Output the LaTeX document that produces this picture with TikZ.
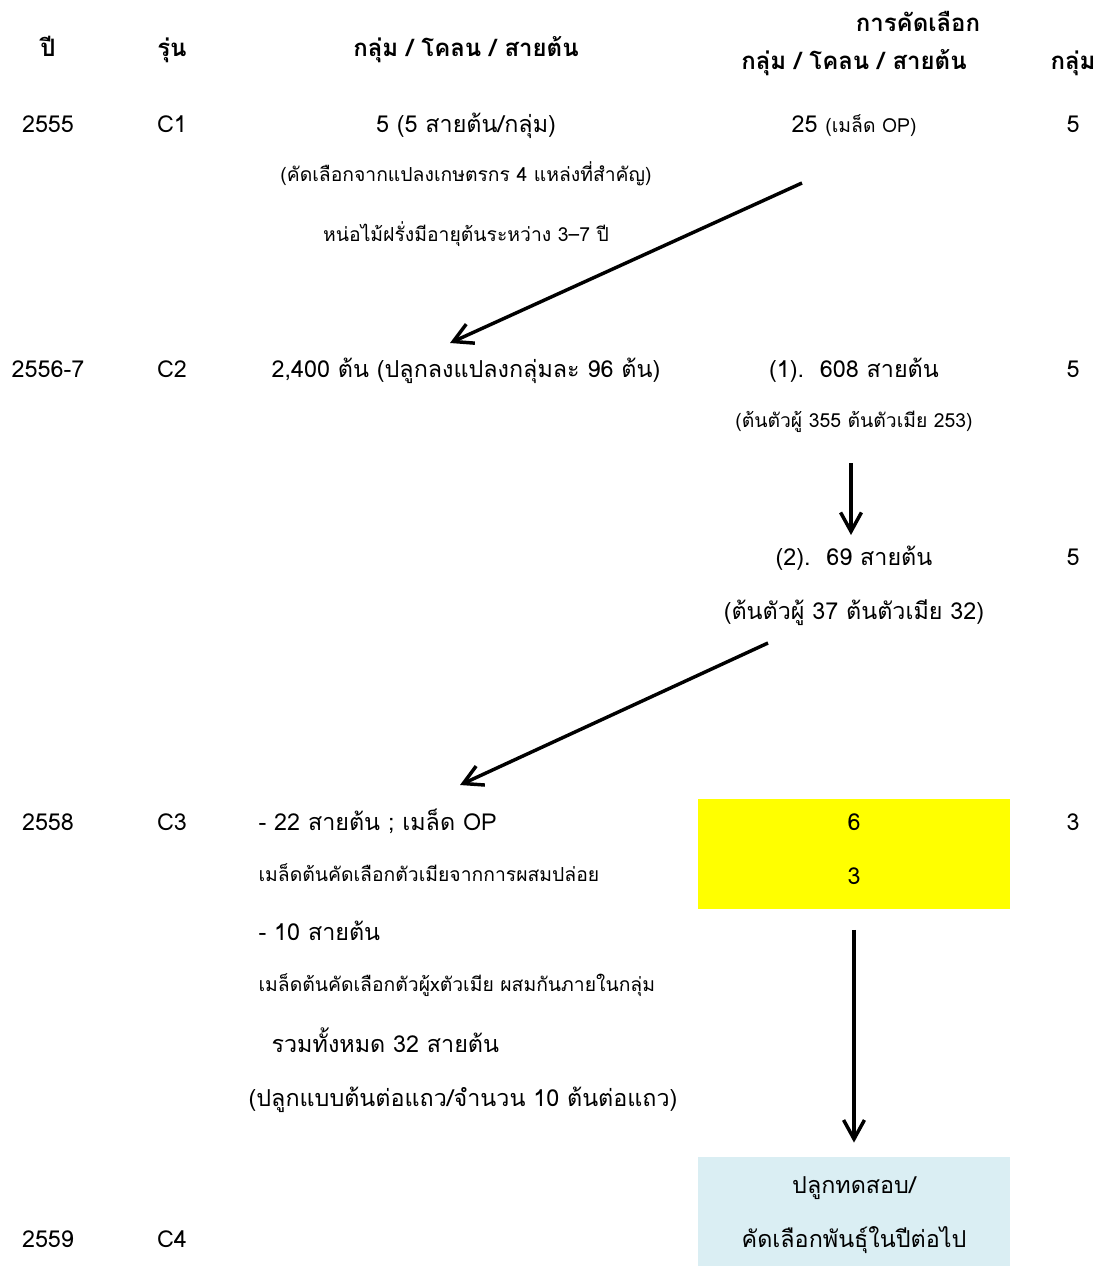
\documentclass[tikz,border=0pt]{standalone}
\usepackage{fontspec}
\setmainfont[Script=Thai]{Loma}
\usepackage{tikz}
\usetikzlibrary{arrows.meta, positioning}
\definecolor{selyellow}{rgb}{1, 1, 0}
\definecolor{testblue}{HTML}{DAEEF3}
\tikzstyle{arrow} = [line width=2.6pt, -{Straight Barb[length=5mm, width=5.5mm]}]
\tikzstyle{cell} = [minimum width=234pt, minimum height=82pt, inner sep=0pt]

\begin{document}
\begin{tikzpicture}[x=0.75pt, y=-0.75pt, txt/.style={font=\fontsize{17.5}{20}\selectfont, inner sep=1pt, anchor=base}, sm/.style={font=\fontsize{14.5}{17}\selectfont, inner sep=1pt, anchor=base}, hd/.style={font=\fontsize{18}{21}\selectfont\bfseries, inner sep=1pt, anchor=base}]
    \useasboundingbox (0,0) rectangle (1102,1266);
    % coloured cells
    \node[cell, fill=selyellow] (selbox) at (854,854) {};
    \node[cell, fill=testblue] (testbox) at (854,1211.5) {};
    % header
    \node[hd] (hyear) at (48,57) {ปี};
    \node[hd] (hgen) at (172,57) {รุ่น};
    \node[hd] (hgroup) at (466,57) {กลุ่ม / โคลน / สายต้น};
    \node[hd] (hsel) at (918,32) {การคัดเลือก};
    \node[hd] (hselg) at (854,70) {กลุ่ม / โคลน / สายต้น};
    \node[hd] (hnum) at (1073,70) {กลุ่ม};
    % 2555
    \node[txt] (y1) at (48,133) {2555};
    \node[txt] (g1) at (172,133) {C1};
    \node[txt] (c1) at (466,133) {5 (5 สายต้น/กลุ่ม)};
    \node[txt] (s1) at (854,133) {25 {\fontsize{14.5}{17}\selectfont (เมล็ด OP)}};
    \node[txt] (n1) at (1073,133) {5};
    \node[sm] (c1a) at (466,182) {(คัดเลือกจากแปลงเกษตรกร 4 แหล่งที่สำคัญ)};
    \node[sm] (c1b) at (466,242) {หน่อไม้ฝรั่งมีอายุต้นระหว่าง 3–7 ปี};
    % 2556-7
    \node[txt] (y2) at (48,377) {2556-7};
    \node[txt] (g2) at (172,377) {C2};
    \node[txt] (c2) at (466,377) {2,400 ต้น (ปลูกลงแปลงกลุ่มละ 96 ต้น)};
    \node[txt] (s2) at (854,377) {(1).\ \ 608 สายต้น};
    \node[txt] (n2) at (1073,377) {5};
    \node[sm] (s2a) at (854,427) {(ต้นตัวผู้ 355 ต้นตัวเมีย 253)};
    \node[txt] (s3) at (854,565) {(2).\ \ 69 สายต้น};
    \node[txt] (n3) at (1073,565) {5};
    \node[txt] (s3a) at (854,619) {(ต้นตัวผู้ 37 ต้นตัวเมีย 32)};
    % 2558
    \node[txt] (y3) at (48,830) {2558};
    \node[txt] (g3) at (172,830) {C3};
    \node[txt, anchor=base west] (c3a) at (257,830) {- 22 สายต้น ; เมล็ด OP};
    \node[sm, anchor=base west] (c3b) at (257,881) {เมล็ดต้นคัดเลือกตัวเมียจากการผสมปล่อย};
    \node[txt, anchor=base west] (c3c) at (257,940) {- 10 สายต้น};
    \node[sm, anchor=base west] (c3d) at (257,991) {เมล็ดต้นคัดเลือกตัวผู้xตัวเมีย ผสมกันภายในกลุ่ม};
    \node[txt, anchor=base west] (c3e) at (270,1052) {รวมทั้งหมด 32 สายต้น};
    \node[txt] (c3f) at (463,1106) {(ปลูกแบบต้นต่อแถว/จำนวน 10 ต้นต่อแถว)};
    \node[txt] (s4) at (854,830) {6};
    \node[txt] (s4a) at (854,884) {3};
    \node[txt] (n4) at (1073,830) {3};
    % 2559
    \node[txt] (y4) at (48,1247) {2559};
    \node[txt] (g4) at (172,1247) {C4};
    \node[txt] (t1) at (854,1193) {ปลูกทดสอบ/};
    \node[txt] (t2) at (854,1247) {คัดเลือกพันธุ์ในปีต่อไป};
    % arrows
    \coordinate (a1s) at (802,183);
    \coordinate (a1e) at (450,343);
    \coordinate (a2s) at (851,463);
    \coordinate (a2e) at (851,535);
    \coordinate (a3s) at (768,643);
    \coordinate (a3e) at (460,785);
    \draw[arrow] (a1s) -- (a1e);
    \draw[arrow] (a2s) -- (a2e);
    \draw[arrow] (a3s) -- (a3e);
    \draw[arrow, shorten <=15.75pt, shorten >=10.5pt] (selbox.south) -- (testbox.north);
\end{tikzpicture}
\end{document}
